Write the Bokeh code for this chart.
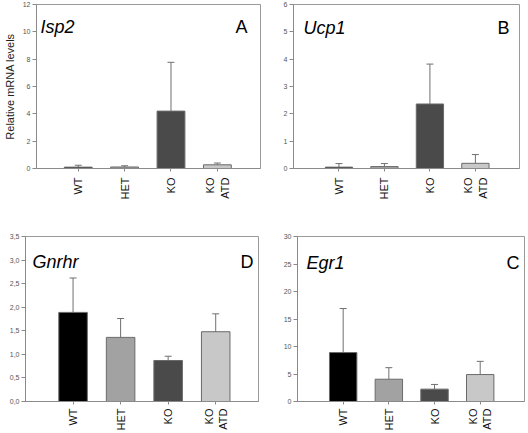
from bokeh.plotting import figure
from bokeh.models import (ColumnDataSource, Range1d, Whisker, TeeHead,
                          Label, FixedTicker, CustomJSTickFormatter)
from bokeh.layouts import column, row
from bokeh.embed import file_html
from bokeh.resources import INLINE

# ---- data ----
groups = ["WT", "HET", "KO", "KO\nATD"]
colors = ["#000000", "#a2a2a2", "#4a4a4a", "#c8c8c8"]

isp2_mean = [0.10, 0.11, 4.20, 0.27]
isp2_err = [0.14, 0.09, 3.57, 0.13]

ucp1_mean = [0.05, 0.07, 2.36, 0.19]
ucp1_err = [0.13, 0.11, 1.46, 0.32]

gnrhr_mean = [1.89, 1.36, 0.87, 1.48]
gnrhr_err = [0.73, 0.40, 0.09, 0.38]

egr1_mean = [8.9, 4.05, 2.25, 4.9]
egr1_err = [8.0, 2.1, 0.85, 2.4]

FONT = "Liberation Sans"


def panel(name, letter, means, errs, ymax, ystep, xr, width, height, borders,
          title_off, letter_off, ylabel=None, comma=False, xstand=6):
    top, right, bottom, left = borders
    pos = list(range(1, len(groups) + 1))
    uppers = [m + e for m, e in zip(means, errs)]
    src = ColumnDataSource(dict(x=pos, m=means, u=uppers, c=colors))
    p = figure(width=width, height=height, output_backend="svg", toolbar_location=None,
               x_range=Range1d(*xr), y_range=Range1d(0, ymax),
               min_border_top=top, min_border_right=right,
               min_border_bottom=bottom, min_border_left=left)
    p.vbar(x="x", top="m", bottom=0, width=0.6, source=src, fill_color="c",
           line_color="#6a6a6a", line_width=1)
    w = Whisker(base="x", upper="u", lower="m", source=src, line_color="#707070",
                line_width=1, lower_head=None,
                upper_head=TeeHead(size=7, line_color="#707070", line_width=1))
    p.add_layout(w)
    p.grid.visible = False
    p.outline_line_color = "#9a9a9a"
    p.background_fill_color = "white"
    p.border_fill_color = "white"

    ya = p.yaxis[0]
    ya.ticker = FixedTicker(ticks=[i * ystep for i in range(int(round(ymax / ystep)) + 1)])
    ya.minor_tick_line_color = None
    ya.major_tick_in = 0
    ya.major_tick_out = 4
    ya.axis_line_color = "#8a8a8a"
    ya.major_tick_line_color = "#8a8a8a"
    ya.major_label_text_font = FONT
    ya.major_label_text_font_size = "7px"
    ya.major_label_text_color = "#555555"
    ya.major_label_standoff = 2
    if comma:
        ya.formatter = CustomJSTickFormatter(code="return tick.toFixed(1).replace('.', ',');")
    if ylabel:
        ya.axis_label = ylabel
        ya.axis_label_text_font = FONT
        ya.axis_label_text_font_style = "normal"
        ya.axis_label_text_font_size = "11px"
        ya.axis_label_text_color = "#222222"
        ya.axis_label_standoff = 4

    xa = p.xaxis[0]
    xa.ticker = FixedTicker(ticks=pos)
    xa.major_label_overrides = {x: g for x, g in zip(pos, groups)}
    xa.minor_tick_line_color = None
    xa.major_label_orientation = 3.14159265 / 2
    xa.major_label_text_font = FONT
    xa.major_label_text_font_size = "11px"
    xa.major_label_text_color = "#111111"
    xa.major_label_standoff = xstand
    xa.major_tick_in = 0
    xa.major_tick_out = 3
    xa.axis_line_color = "#8a8a8a"
    xa.major_tick_line_color = "#8a8a8a"

    p.add_layout(Label(x=xr[0], y=ymax, x_offset=title_off[0], y_offset=-title_off[1],
                       text=name, text_font=FONT, text_font_style="italic",
                       text_font_size="18px", text_baseline="alphabetic",
                       text_align="left", text_color="#000000"))
    p.add_layout(Label(x=xr[1], y=ymax, x_offset=-letter_off[0], y_offset=-letter_off[1],
                       text=letter, text_font=FONT, text_font_size="18px",
                       text_baseline="alphabetic", text_align="right",
                       text_color="#000000"))
    return p


pA = panel("Isp2", "A", isp2_mean, isp2_err, 12, 2, (0.1, 4.93), 264, 216,
           (4, 4, 48, 33), (4, 22), (13, 22), ylabel="Relative mRNA levels")
pB = panel("Ucp1", "B", ucp1_mean, ucp1_err, 6, 1, (0.0, 4.97), 264, 216,
           (4, 9, 47, 29), (10, 23), (10, 23))
pD = panel("Gnrhr", "D", gnrhr_mean, gnrhr_err, 3.5, 0.5, (0.0, 4.9), 264, 217,
           (20, 6, 31, 25), (7, 25), (5, 25), comma=True, xstand=4)
pC = panel("Egr1", "C", egr1_mean, egr1_err, 30, 5, (0.0, 4.97), 264, 217,
           (19, 4, 30, 33), (9, 26), (5, 26), xstand=4)

layout = column(row(pA, pB), row(pD, pC))

open("out.html", "w").write(file_html(layout, INLINE))
